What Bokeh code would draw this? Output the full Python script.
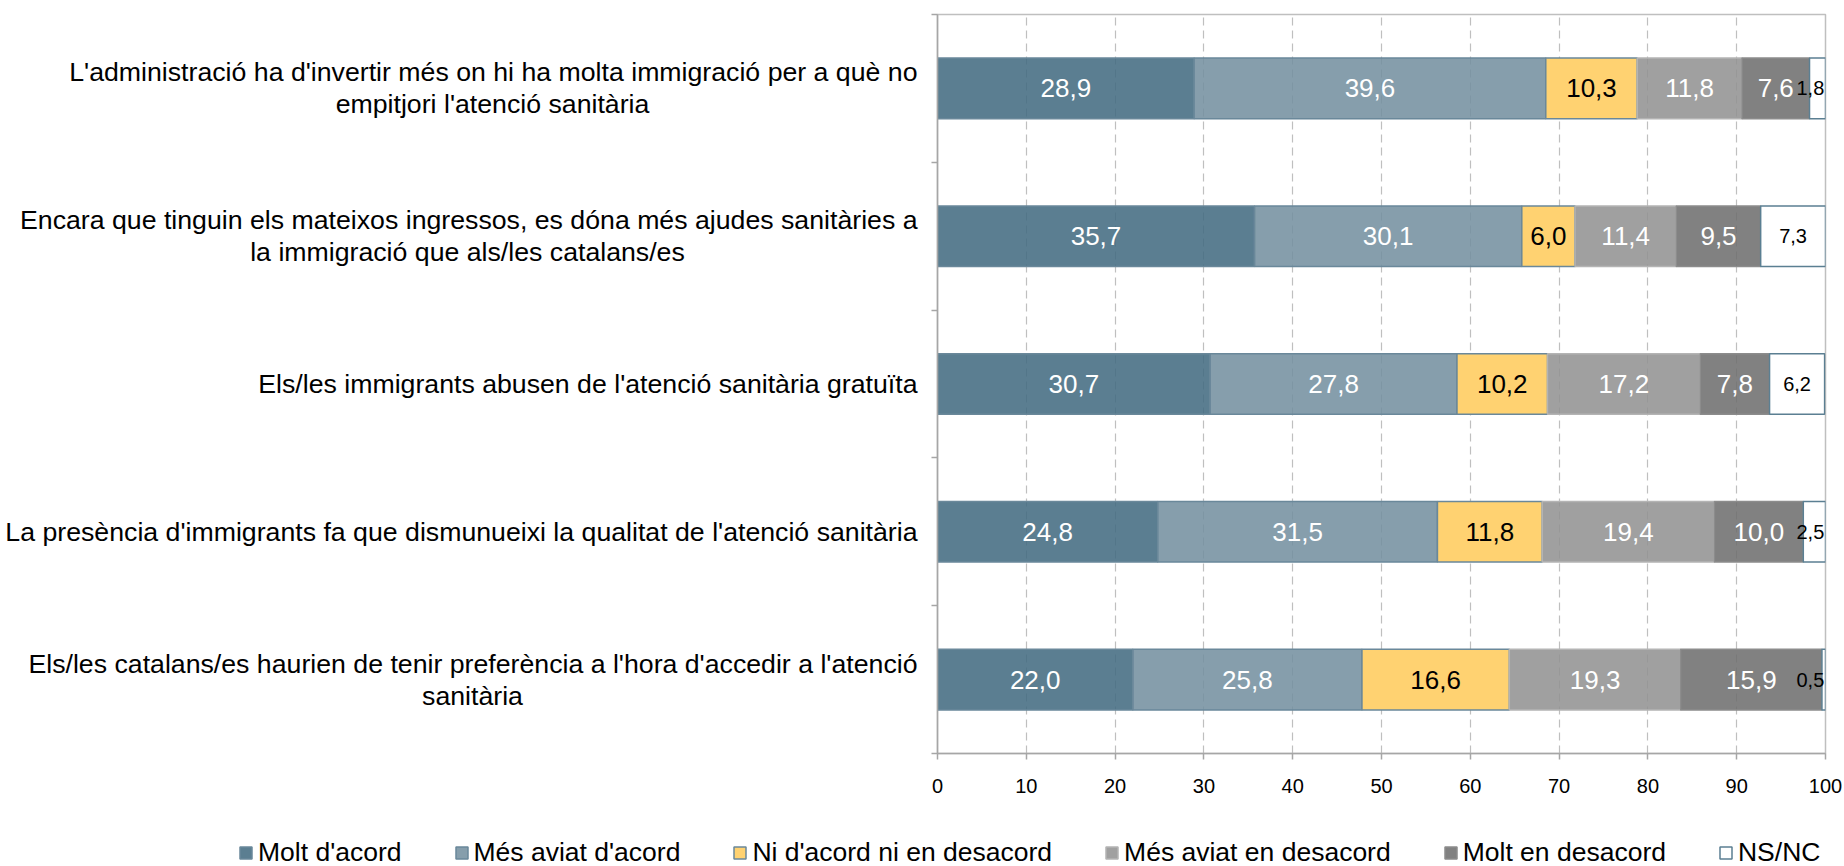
import numpy as np
from bokeh.plotting import figure
from bokeh.layouts import row, column
from bokeh.models import (Range1d, FixedTicker, ColumnDataSource, LabelSet,
                          Legend, LegendItem)
from bokeh.core.properties import value
from bokeh.embed import file_html
from bokeh.resources import INLINE

# ---------------- data ----------------
statements = [
    ["L'administració ha d'invertir més on hi ha molta immigració per a què no",
     "empitjori l'atenció sanitària"],
    ["Encara que tinguin els mateixos ingressos, es dóna més ajudes sanitàries a",
     "la immigració que als/les catalans/es"],
    ["Els/les immigrants abusen de l'atenció sanitària gratuïta"],
    ["La presència d'immigrants fa que dismunueixi la qualitat de l'atenció sanitària"],
    ["Els/les catalans/es haurien de tenir preferència a l'hora d'accedir a l'atenció",
     "sanitària"],
]
series_names = ["Molt d'acord", "Més aviat d'acord", "Ni d'acord ni en desacord",
                "Més aviat en desacord", "Molt en desacord", "NS/NC"]
molt_acord = [28.9, 35.7, 30.7, 24.8, 22.0]
mes_aviat_acord = [39.6, 30.1, 27.8, 31.5, 25.8]
ni_acord_ni_desacord = [10.3, 6.0, 10.2, 11.8, 16.6]
mes_aviat_desacord = [11.8, 11.4, 17.2, 19.4, 19.3]
molt_desacord = [7.6, 9.5, 7.8, 10.0, 15.9]
ns_nc = [1.8, 7.3, 6.2, 2.5, 0.5]
x_ticks = [0, 10, 20, 30, 40, 50, 60, 70, 80, 90, 100]

series = [molt_acord, mes_aviat_acord, ni_acord_ni_desacord,
          mes_aviat_desacord, molt_desacord, ns_nc]

# ---------------- style ----------------
FONT = "Liberation Sans"
fills = ["#446C82", "#7591A0", "#FFD271", "#939393", "#6F6F6F", "#FFFFFF"]
alphas = [0.88, 0.88, 1.0, 0.88, 0.88, 1.0]
lines = ["#6A889A", "#6A889A", "#6A889A", "#B4B4B4", "#8C8C8C", "#5B7F92"]
text_colors = ["white", "white", "black", "white", "white", "black"]
text_sizes = ["26px", "26px", "26px", "26px", "26px", "20px"]
AX = "#A6A6A6"
BAR_H = 0.41
CAT_FONT_SIZE = "26.7px"
LEG_FONT_SIZE = "26.5px"

# layout (pixels)
TOTAL_W, TOTAL_H = 1844, 866
LEFT_W = 922            # width of the label panel
MAIN_W = TOTAL_W - LEFT_W
TOP_H = 810             # height of chart row
LEG_H = TOTAL_H - TOP_H
FRAME_TOP, FRAME_BOTTOM = 14, 753
FRAME_LEFT_IN_MAIN = 15   # 937 - 922
FRAME_W = 888

y_range = Range1d(0, 5)

# ---------------- main chart ----------------
p = figure(width=MAIN_W, height=TOP_H, x_range=Range1d(0, 100), y_range=y_range,
           output_backend="svg", toolbar_location=None,
           min_border_left=FRAME_LEFT_IN_MAIN,
           min_border_right=MAIN_W - FRAME_LEFT_IN_MAIN - FRAME_W,
           min_border_top=FRAME_TOP, min_border_bottom=TOP_H - FRAME_BOTTOM)
p.background_fill_color = "white"
p.border_fill_color = "white"
p.outline_line_color = "#BFBFBF"
p.outline_line_width = 1.5

p.ygrid.visible = False
p.xgrid.ticker = FixedTicker(ticks=x_ticks)
p.xgrid.grid_line_color = "#BFBFBF"
p.xgrid.grid_line_dash = "8 5"
p.xgrid.grid_line_width = 1.2

p.xaxis.ticker = FixedTicker(ticks=x_ticks)
p.xaxis.major_tick_out = 6
p.xaxis.major_tick_in = 0
p.xaxis.minor_tick_line_color = None
p.xaxis.axis_line_color = AX
p.xaxis.axis_line_width = 1.5
p.xaxis.major_tick_line_color = AX
p.xaxis.major_tick_line_width = 1.5
p.xaxis.major_label_text_font = FONT
p.xaxis.major_label_text_font_size = "20px"
p.xaxis.major_label_text_color = "black"
p.xaxis.major_label_standoff = 19

y_bounds = [0, 1, 2, 3, 4, 5]
p.yaxis.ticker = FixedTicker(ticks=y_bounds)
p.yaxis.major_label_overrides = {t: "" for t in y_bounds}
p.yaxis.major_label_standoff = 0
p.yaxis.major_tick_out = 6
p.yaxis.major_tick_in = 0
p.yaxis.minor_tick_line_color = None
p.yaxis.axis_line_color = AX
p.yaxis.axis_line_width = 1.5
p.yaxis.major_tick_line_color = AX
p.yaxis.major_tick_line_width = 1.5

n = len(statements)
ypos = np.array([n - 0.5 - i for i in range(n)])

def fmt(v):
    return f"{v:.1f}".replace(".", ",")

sources = []
cum = np.zeros(n)
for k, vals in enumerate(series):
    vals = np.array(vals, dtype=float)
    left = cum.copy()
    right = cum + vals
    mid = (left + right) / 2
    if k == len(series) - 1:
        mid = np.minimum(mid, 98.3)   # keep the small labels inside the frame
    src = ColumnDataSource(dict(y=ypos, left=left, right=right, mid=mid,
                                lab=[fmt(v) for v in vals]))
    sources.append(src)
    p.hbar(y="y", left="left", right="right", height=BAR_H, source=src,
           fill_color=fills[k], fill_alpha=alphas[k],
           line_color=lines[k], line_width=1.5)
    p.add_layout(LabelSet(x="mid", y="y", text="lab", source=src, text_align="center",
                          text_baseline="middle", text_font=value(FONT),
                          text_font_size=text_sizes[k], text_color=text_colors[k],
                          level="overlay"))
    cum = right

# ---------------- category labels panel ----------------
lp = figure(width=LEFT_W, height=TOP_H, x_range=Range1d(0, LEFT_W), y_range=y_range,
            output_backend="svg", toolbar_location=None,
            x_axis_type=None, y_axis_type=None,
            min_border_left=0, min_border_right=0,
            min_border_top=FRAME_TOP, min_border_bottom=TOP_H - FRAME_BOTTOM)
lp.outline_line_color = None
lp.background_fill_color = "white"
lp.border_fill_color = "white"

px_per_unit = (FRAME_BOTTOM - FRAME_TOP) / 5.0
dy = 16 / px_per_unit
right_edge = 917
second_centers = {0: 492, 1: 467, 4: 472}

r_x, r_y, r_t = [], [], []
c_x, c_y, c_t = [], [], []
for i, st in enumerate(statements):
    if len(st) == 1:
        r_x.append(right_edge); r_y.append(ypos[i]); r_t.append(st[0])
    else:
        r_x.append(right_edge); r_y.append(ypos[i] + dy); r_t.append(st[0])
        c_x.append(second_centers[i]); c_y.append(ypos[i] - dy); c_t.append(st[1])

lp.text(x=r_x, y=r_y, text=r_t, text_align="right", text_baseline="middle",
        text_font=value(FONT), text_font_size=CAT_FONT_SIZE, text_color="black")
lp.text(x=c_x, y=c_y, text=c_t, text_align="center", text_baseline="middle",
        text_font=value(FONT), text_font_size=CAT_FONT_SIZE, text_color="black")

# ---------------- legend panel ----------------
lg = figure(width=TOTAL_W, height=LEG_H, x_range=Range1d(0, TOTAL_W),
            y_range=Range1d(0, LEG_H), output_backend="svg", toolbar_location=None,
            x_axis_type=None, y_axis_type=None,
            min_border_left=0, min_border_right=0, min_border_top=0, min_border_bottom=0)
lg.outline_line_color = None
lg.background_fill_color = "white"
lg.border_fill_color = "white"

items = []
for k, name in enumerate(series_names):
    # proxy renderers (hidden) that share the series' data, only for the legend swatches
    r = lg.hbar(y="y", left="left", right="right", height=BAR_H, source=sources[k],
                fill_color=fills[k], fill_alpha=alphas[k],
                line_color=lines[k], line_width=1.5, visible=False)
    items.append(LegendItem(label=name, renderers=[r]))

legend = Legend(items=items, orientation="horizontal", location=(238, -2),
                glyph_width=15, glyph_height=15, label_standoff=5, spacing=52,
                padding=0, margin=0, border_line_color=None,
                background_fill_alpha=0, inactive_fill_alpha=0,
                label_text_font=FONT, label_text_font_size=LEG_FONT_SIZE,
                label_text_color="black")
lg.add_layout(legend)

layout = column(row(lp, p, spacing=0), lg, spacing=0)
open("out.html", "w").write(file_html(layout, INLINE))
